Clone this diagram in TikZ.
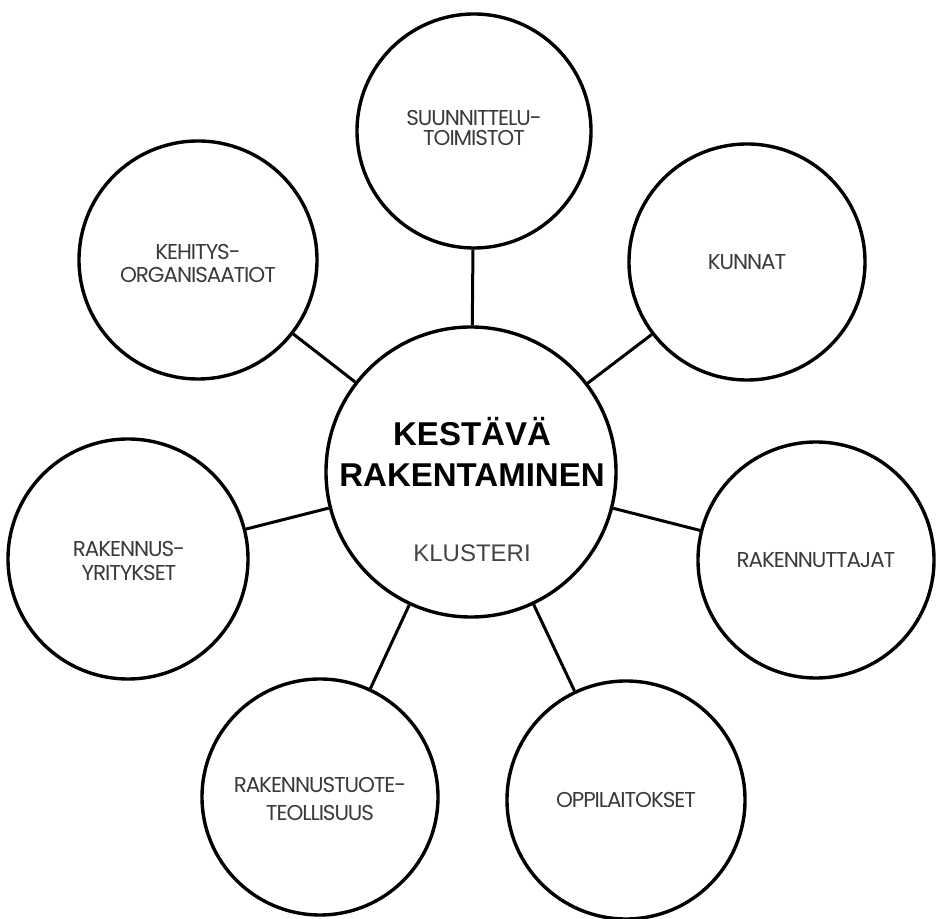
\documentclass[tikz,border=0pt]{standalone}
\usepackage{fontspec}
\setmainfont{Liberation Sans}
\newfontfamily\labfont[LetterSpace=-5]{Poppins}
\definecolor{labgray}{HTML}{3A3A3A}
\definecolor{klgray}{HTML}{444444}
\begin{document}
\begin{tikzpicture}[x=1pt,y=1pt,
  bubble/.style={circle,draw=black,line width=3.4pt,minimum size=#1,inner sep=0pt,fill=white},
  lab/.style={font=\labfont\fontsize{21.5}{23}\selectfont,text=labgray,align=center},
  link/.style={line width=3pt,draw=black}]
\useasboundingbox (0,0) rectangle (936,918);
\fill[white] (0,0) rectangle (936,918);
\node[bubble=290pt] (c) at (471,446) {};
\node[bubble=234pt] (s) at (474,787) {};
\node[bubble=236pt] (k) at (747,656) {};
\node[bubble=236pt] (r) at (816,358) {};
\node[bubble=238pt] (o) at (626,118) {};
\node[bubble=236pt] (t) at (320,121) {};
\node[bubble=240pt] (y) at (128,359) {};
\node[bubble=238pt] (e) at (198,658) {};
\foreach \n in {s,k,r,o,t,y,e}{\draw[link] (c) -- (\n);}
\node[font=\bfseries\fontsize{33}{41}\selectfont,align=center,anchor=base] (ct) at (472,431) {KESTÄVÄ\\RAKENTAMINEN};
\node[font=\fontsize{24}{24}\selectfont,text=klgray,anchor=base] (cl) at (472,356) {KLUSTERI};
\node[lab,font=\labfont\fontsize{21.5}{20}\selectfont] (sl) at (474,790) {SUUNNITTELU-\\TOIMISTOT};
\node[lab] (kl) at (k) {KUNNAT};
\node[lab] (rl) at (r) {RAKENNUTTAJAT};
\node[lab] (ol) at (o) {OPPILAITOKSET};
\node[lab,font=\labfont\fontsize{21.5}{28}\selectfont] (tl) at (320,119) {RAKENNUSTUOTE-\\TEOLLISUUS};
\node[lab,font=\labfont\fontsize{21.5}{24}\selectfont] (yl) at (129,357) {RAKENNUS-\\YRITYKSET};
\node[lab,font=\labfont\fontsize{21.5}{23}\selectfont] (el) at (198,655) {KEHITYS-\\ORGANISAATIOT};
\end{tikzpicture}
\end{document}
